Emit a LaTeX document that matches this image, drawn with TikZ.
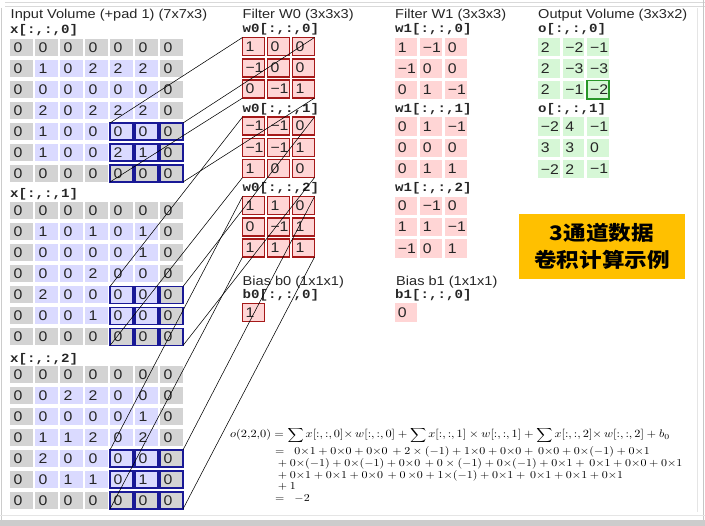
\RequirePackage{fix-cm}
\documentclass[tikz,border=0pt]{standalone}
\usepackage{fontspec}
\usepackage{graphicx}
\setmainfont{Liberation Sans}[FakeStretch=1.13]
\setmonofont{Liberation Mono}[FakeStretch=1.13]
\newfontfamily\cjk{Noto Sans CJK SC}[FakeStretch=1.13]
\definecolor{graycell}{RGB}{211,211,211}
\definecolor{lavcell}{RGB}{218,218,255}
\definecolor{pinkcell}{RGB}{255,213,213}
\definecolor{greencell}{RGB}{214,247,214}
\definecolor{hlblue}{RGB}{25,25,150}
\definecolor{redborder}{RGB}{165,25,25}
\definecolor{hlgreen}{RGB}{40,150,40}
\definecolor{orangebox}{RGB}{255,192,0}
\newcommand\cellfont{\fontsize{14}{16}\selectfont}
\newcommand\inslice[2]{%
  \foreach \rowlist [count=\rr from 0] in {#2} {%
    \foreach \v [count=\cc from 0] in \rowlist {%
      \pgfmathsetmacro\xx{10+25*\cc}%
      \pgfmathsetmacro\yy{39+163.5*#1+21*\rr}%
      \pgfmathtruncatemacro\isedge{or(or(\rr==0,\rr==6),or(\cc==0,\cc==6))}%
      \ifnum\isedge=1 \def\cf{graycell}\else\def\cf{lavcell}\fi
      \node[incell,fill=\cf] (x#1-\rr-\cc) at (\xx,\yy) {\makebox[16pt][l]{\v}};
    }%
  }%
}
\newcommand\mgrid[7]{%
  \foreach \rowlist [count=\rr from 0] in {#7} {%
    \foreach \v [count=\cc from 0] in \rowlist {%
      \pgfmathsetmacro\xx{#2+#4*\cc}%
      \pgfmathsetmacro\yy{#3+#5*\rr}%
      \node[#6] (#1-\rr-\cc) at (\xx,\yy) {\makebox[16pt][l]{\v}};
    }%
  }%
}
\begin{document}
\begin{tikzpicture}[x=1pt,y=-1pt,
  incell/.style={anchor=north west, minimum width=23pt, minimum height=17pt,
    inner xsep=2.5pt, inner ysep=0pt, outer sep=0pt, font=\cellfont, text=black!85},
  wacell/.style={incell, minimum width=22pt, minimum height=18pt, fill=pinkcell,
    draw=redborder, line width=1.5pt},
  wbcell/.style={incell, minimum width=21.7pt, minimum height=18.5pt, fill=pinkcell},
  ocell/.style={incell, minimum width=21.7pt, minimum height=18.5pt, fill=greencell},
  ttl/.style={anchor=base west, inner sep=0pt, font=\fontsize{12.9}{14}\selectfont, text=black!85},
  lbl/.style={anchor=base west, inner sep=0pt, font=\ttfamily\bfseries\fontsize{12.5}{14}\selectfont, text=black!85},
  hlin/.style={draw=hlblue, line width=1.8pt},
  hlout/.style={draw=hlgreen, line width=1.6pt},
  conn/.style={draw=black, line width=0.55pt},
  frm/.style={anchor=base west, inner sep=0pt, font=\fontsize{10.6}{12}\selectfont},
  banner/.style={fill=orangebox, minimum width=166pt, minimum height=65pt, align=center,
    inner sep=0pt, font=\cjk\bfseries\fontsize{20}{27}\selectfont},
  deco/.style={draw=gray!30, line width=0.8pt}
]
\useasboundingbox (0,0) rectangle (705,526);
% slide decorations
\draw[deco] (5,2.5) -- (705,2.5);
\draw[deco] (5,6) -- (705,6);
\draw[deco,draw=gray!40] (1.5,8) -- (1.5,526);
\draw[deco,draw=gray!20] (697,8) -- (697,512);
\draw[deco,draw=gray!45] (703,0) -- (703,526);
\draw[deco,draw=gray!20] (0,515) -- (705,515);
\fill[gray!40] (0,520) rectangle (705,526);

% titles
\node[ttl] (tin) at (10.5,19) {Input Volume (+pad 1) (7x7x3)};
\node[ttl] (tw0) at (242.5,19) {Filter W0 (3x3x3)};
\node[ttl] (tw1) at (395,19) {Filter W1 (3x3x3)};
\node[ttl] (tout) at (538,19) {Output Volume (3x3x2)};

% input labels
\node[lbl] (lx0) at (10,33.5) {x[:,:,0]};
\node[lbl] (lx1) at (10,198) {x[:,:,1]};
\node[lbl] (lx2) at (10,362.5) {x[:,:,2]};

% input volume
\inslice{0}{{0,0,0,0,0,0,0},{0,1,0,2,2,2,0},{0,0,0,0,0,0,0},{0,2,0,2,2,2,0},{0,1,0,0,0,0,0},{0,1,0,0,2,1,0},{0,0,0,0,0,0,0}}
\inslice{1}{{0,0,0,0,0,0,0},{0,1,0,1,0,1,0},{0,0,0,0,0,1,0},{0,0,0,2,0,0,0},{0,2,0,0,0,0,0},{0,0,0,1,0,0,0},{0,0,0,0,0,0,0}}
\inslice{2}{{0,0,0,0,0,0,0},{0,0,2,2,0,0,0},{0,0,0,0,0,1,0},{0,1,1,2,0,2,0},{0,2,0,0,0,0,0},{0,0,1,1,0,1,0},{0,0,0,0,0,0,0}}
\foreach \k in {0,1,2}{
  \foreach \r in {4,5,6}{
    \foreach \c in {4,5,6}{
      \draw[hlin] (x\k-\r-\c.north west) rectangle (x\k-\r-\c.south east);
    }}}

% filter W0
\node[lbl] (lw00) at (242.5,33) {w0[:,:,0]};
\node[lbl] (lw01) at (242.5,112.5) {w0[:,:,1]};
\node[lbl] (lw02) at (242.5,192) {w0[:,:,2]};
\mgrid{wa0}{242.5}{37.5}{25}{21.3}{wacell}{{1,0,0},{−1,0,0},{0,−1,1}}
\mgrid{wa1}{242.5}{117}{25}{21.3}{wacell}{{−1,−1,0},{−1,−1,1},{1,0,0}}
\mgrid{wa2}{242.5}{196.5}{25}{21.3}{wacell}{{1,1,0},{0,−1,1},{1,1,1}}

% filter W1
\node[lbl] (lw10) at (395,33) {w1[:,:,0]};
\node[lbl] (lw11) at (395,112.5) {w1[:,:,1]};
\node[lbl] (lw12) at (395,192) {w1[:,:,2]};
\mgrid{wb0}{395}{38}{25}{21.3}{wbcell}{{1,−1,0},{−1,0,0},{0,1,−1}}
\mgrid{wb1}{395}{117.3}{25}{21.3}{wbcell}{{0,1,−1},{0,0,0},{0,1,1}}
\mgrid{wb2}{395}{196.6}{25}{21.3}{wbcell}{{0,−1,0},{1,1,−1},{−1,0,1}}

% output
\node[lbl] (lo0) at (538,33) {o[:,:,0]};
\node[lbl] (lo1) at (538,113) {o[:,:,1]};
\mgrid{oa0}{538}{38}{24.6}{21.3}{ocell}{{2,−2,−1},{2,−3,−3},{2,−1,−2}}
\mgrid{oa1}{538}{117.3}{24.6}{21.3}{ocell}{{−2,4,−1},{3,3,0},{−2,2,−1}}
\draw[hlout] (oa0-2-2.north west) rectangle (oa0-2-2.south east);

% biases
\node[ttl] (tb0) at (242.5,285.5) {Bias b0 (1x1x1)};
\node[ttl] (tb1) at (396,285.5) {Bias b1 (1x1x1)};
\node[lbl] (lb0) at (242.5,299) {b0[:,:,0]};
\node[lbl] (lb1) at (395,299) {b1[:,:,0]};
\node[wacell] (b0) at (242.5,303.5) {\makebox[16pt][l]{1}};
\node[wbcell, minimum height=19pt] (b1) at (395,303) {\makebox[16pt][l]{0}};

% banner
\node[banner] (banner) at (602,246.5) {3通道数据\\卷积计算示例};

% connectors
\foreach \k in {0,1,2}{
  \draw[conn] (x\k-4-4.north west) -- (wa\k-0-0.north west);
  \draw[conn] (x\k-4-6.north east) -- (wa\k-0-2.north east);
  \draw[conn] (x\k-6-4.south west) -- (wa\k-2-0.south west);
  \draw[conn] (x\k-6-6.south east) -- (wa\k-2-2.south east);
}

% formula
\node[frm, font=\fontsize{11}{12}\selectfont] (f1) at (230,438) {\scalebox{1.12}[1]{$o(2{,}2{,}0) = \displaystyle\sum x[{:},{:},0]{\times}\,w[{:},{:},0] + \sum x[{:},{:},1] \times w[{:},{:},1] + \sum x[{:},{:},2]{\times}\,w[{:},{:},2] + b_0$}};
\node[frm] (f2) at (275,455) {\scalebox{1.13}[1]{$=\;\;0{\times}1+0{\times}0+0{\times}0\,+2\times(-1)+1{\times}0+0{\times}0+\,0{\times}0+0{\times}(-1)+0{\times}1$}};
\node[frm] (f3) at (275,466.7) {\scalebox{1.13}[1]{${}+0{\times}(-1)+0{\times}(-1)+0{\times}0\,+0\times(-1)+0{\times}(-1)+0{\times}1+\,0{\times}1+0{\times}0+0{\times}1$}};
\node[frm] (f4) at (275,478.3) {\scalebox{1.13}[1]{${}+0{\times}1+0{\times}1+0{\times}0\,+0\,{\times}0+1{\times}(-1)+0{\times}1+\,0{\times}1+0{\times}1+0{\times}1$}};
\node[frm] (f5) at (275,490) {\scalebox{1.13}[1]{${}+1$}};
\node[frm] (f6) at (275,501.7) {\scalebox{1.13}[1]{$=\;\;-2$}};
\end{tikzpicture}
\end{document}
